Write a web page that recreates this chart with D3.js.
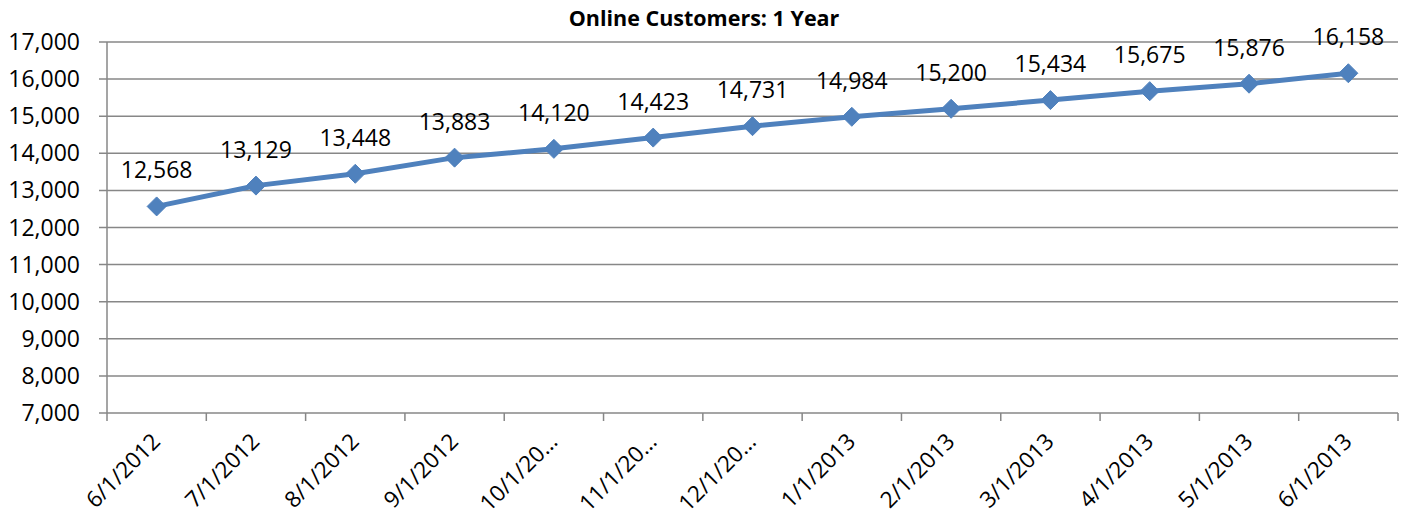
<html>
<head>
<script src="https://d3js.org/d3.v7.min.js"></script>
<style>
body { margin: 0; background: #fff; }
text { font-family: "Open Sans", "Noto Sans", sans-serif; fill: #000; }
</style>
</head>
<body>
<svg width="1408" height="523"></svg>
<script>
var categories = ["6/1/2012", "7/1/2012", "8/1/2012", "9/1/2012", "10/1/20\u2026", "11/1/20\u2026", "12/1/20\u2026",
  "1/1/2013", "2/1/2013", "3/1/2013", "4/1/2013", "5/1/2013", "6/1/2013"];
var customers = [12568, 13129, 13448, 13883, 14120, 14423, 14731, 14984, 15200, 15434, 15675, 15876, 16158];
var yTicks = [7000, 8000, 9000, 10000, 11000, 12000, 13000, 14000, 15000, 16000, 17000];

var plotLeft = 107, plotRight = 1398, plotTop = 42, plotBottom = 413;
var fmt = d3.format(",");

var svg = d3.select("svg");

var x = d3.scaleBand().domain(d3.range(categories.length)).range([plotLeft, plotRight]);
var y = d3.scaleLinear().domain([7000, 17000]).range([plotBottom, plotTop]);

// title
svg.append("text")
  .attr("x", 704).attr("y", 26)
  .attr("text-anchor", "middle")
  .attr("font-size", 21.5)
  .attr("font-weight", "bold")
  .text("Online Customers: 1 Year");

// gridlines
svg.append("g").selectAll("line").data(yTicks).enter().append("line")
  .attr("x1", plotLeft - 8).attr("x2", plotRight)
  .attr("y1", function(d) { return y(d); })
  .attr("y2", function(d) { return y(d); })
  .attr("stroke", "#878787").attr("stroke-width", 1.5);

// y axis line
svg.append("line")
  .attr("x1", plotLeft).attr("x2", plotLeft).attr("y1", plotTop).attr("y2", plotBottom)
  .attr("stroke", "#878787").attr("stroke-width", 1.5);

// y tick labels
svg.append("g").selectAll("text").data(yTicks).enter().append("text")
  .attr("x", 80)
  .attr("y", function(d) { return y(d) + 8; })
  .attr("text-anchor", "end")
  .attr("font-size", 23)
  .text(function(d) { return fmt(d); });

// x ticks (between categories)
svg.append("g").selectAll("line").data(d3.range(categories.length + 1)).enter().append("line")
  .attr("x1", function(d) { return plotLeft + d * x.step(); })
  .attr("x2", function(d) { return plotLeft + d * x.step(); })
  .attr("y1", plotBottom).attr("y2", plotBottom + 8)
  .attr("stroke", "#878787").attr("stroke-width", 1.5);

// x labels
svg.append("g").selectAll("text").data(categories).enter().append("text")
  .attr("transform", function(d, i) {
    return "translate(" + (x(i) + x.bandwidth() / 2 + 5) + "," + (plotBottom + 30) + ") rotate(-45)";
  })
  .attr("text-anchor", "end")
  .attr("font-size", 22.5)
  .text(function(d) { return d; });

// line
var cx = function(d, i) { return x(i) + x.bandwidth() / 2; };
svg.append("path")
  .datum(customers)
  .attr("fill", "none")
  .attr("stroke", "#4F81BD")
  .attr("stroke-width", 5)
  .attr("stroke-linejoin", "round")
  .attr("d", d3.line().x(cx).y(function(d) { return y(d); }));

// markers
svg.append("g").selectAll("path").data(customers).enter().append("path")
  .attr("d", "M0,-9.5L9.5,0L0,9.5L-9.5,0Z")
  .attr("transform", function(d, i) { return "translate(" + cx(d, i) + "," + y(d) + ")"; })
  .attr("fill", "#4F81BD")
  .attr("stroke", "#4F81BD").attr("stroke-width", 1);

// data labels
svg.append("g").selectAll("text").data(customers).enter().append("text")
  .attr("x", cx)
  .attr("y", function(d) { return y(d) - 28; })
  .attr("text-anchor", "middle")
  .attr("font-size", 23)
  .text(function(d) { return fmt(d); });
</script>
</body>
</html>
